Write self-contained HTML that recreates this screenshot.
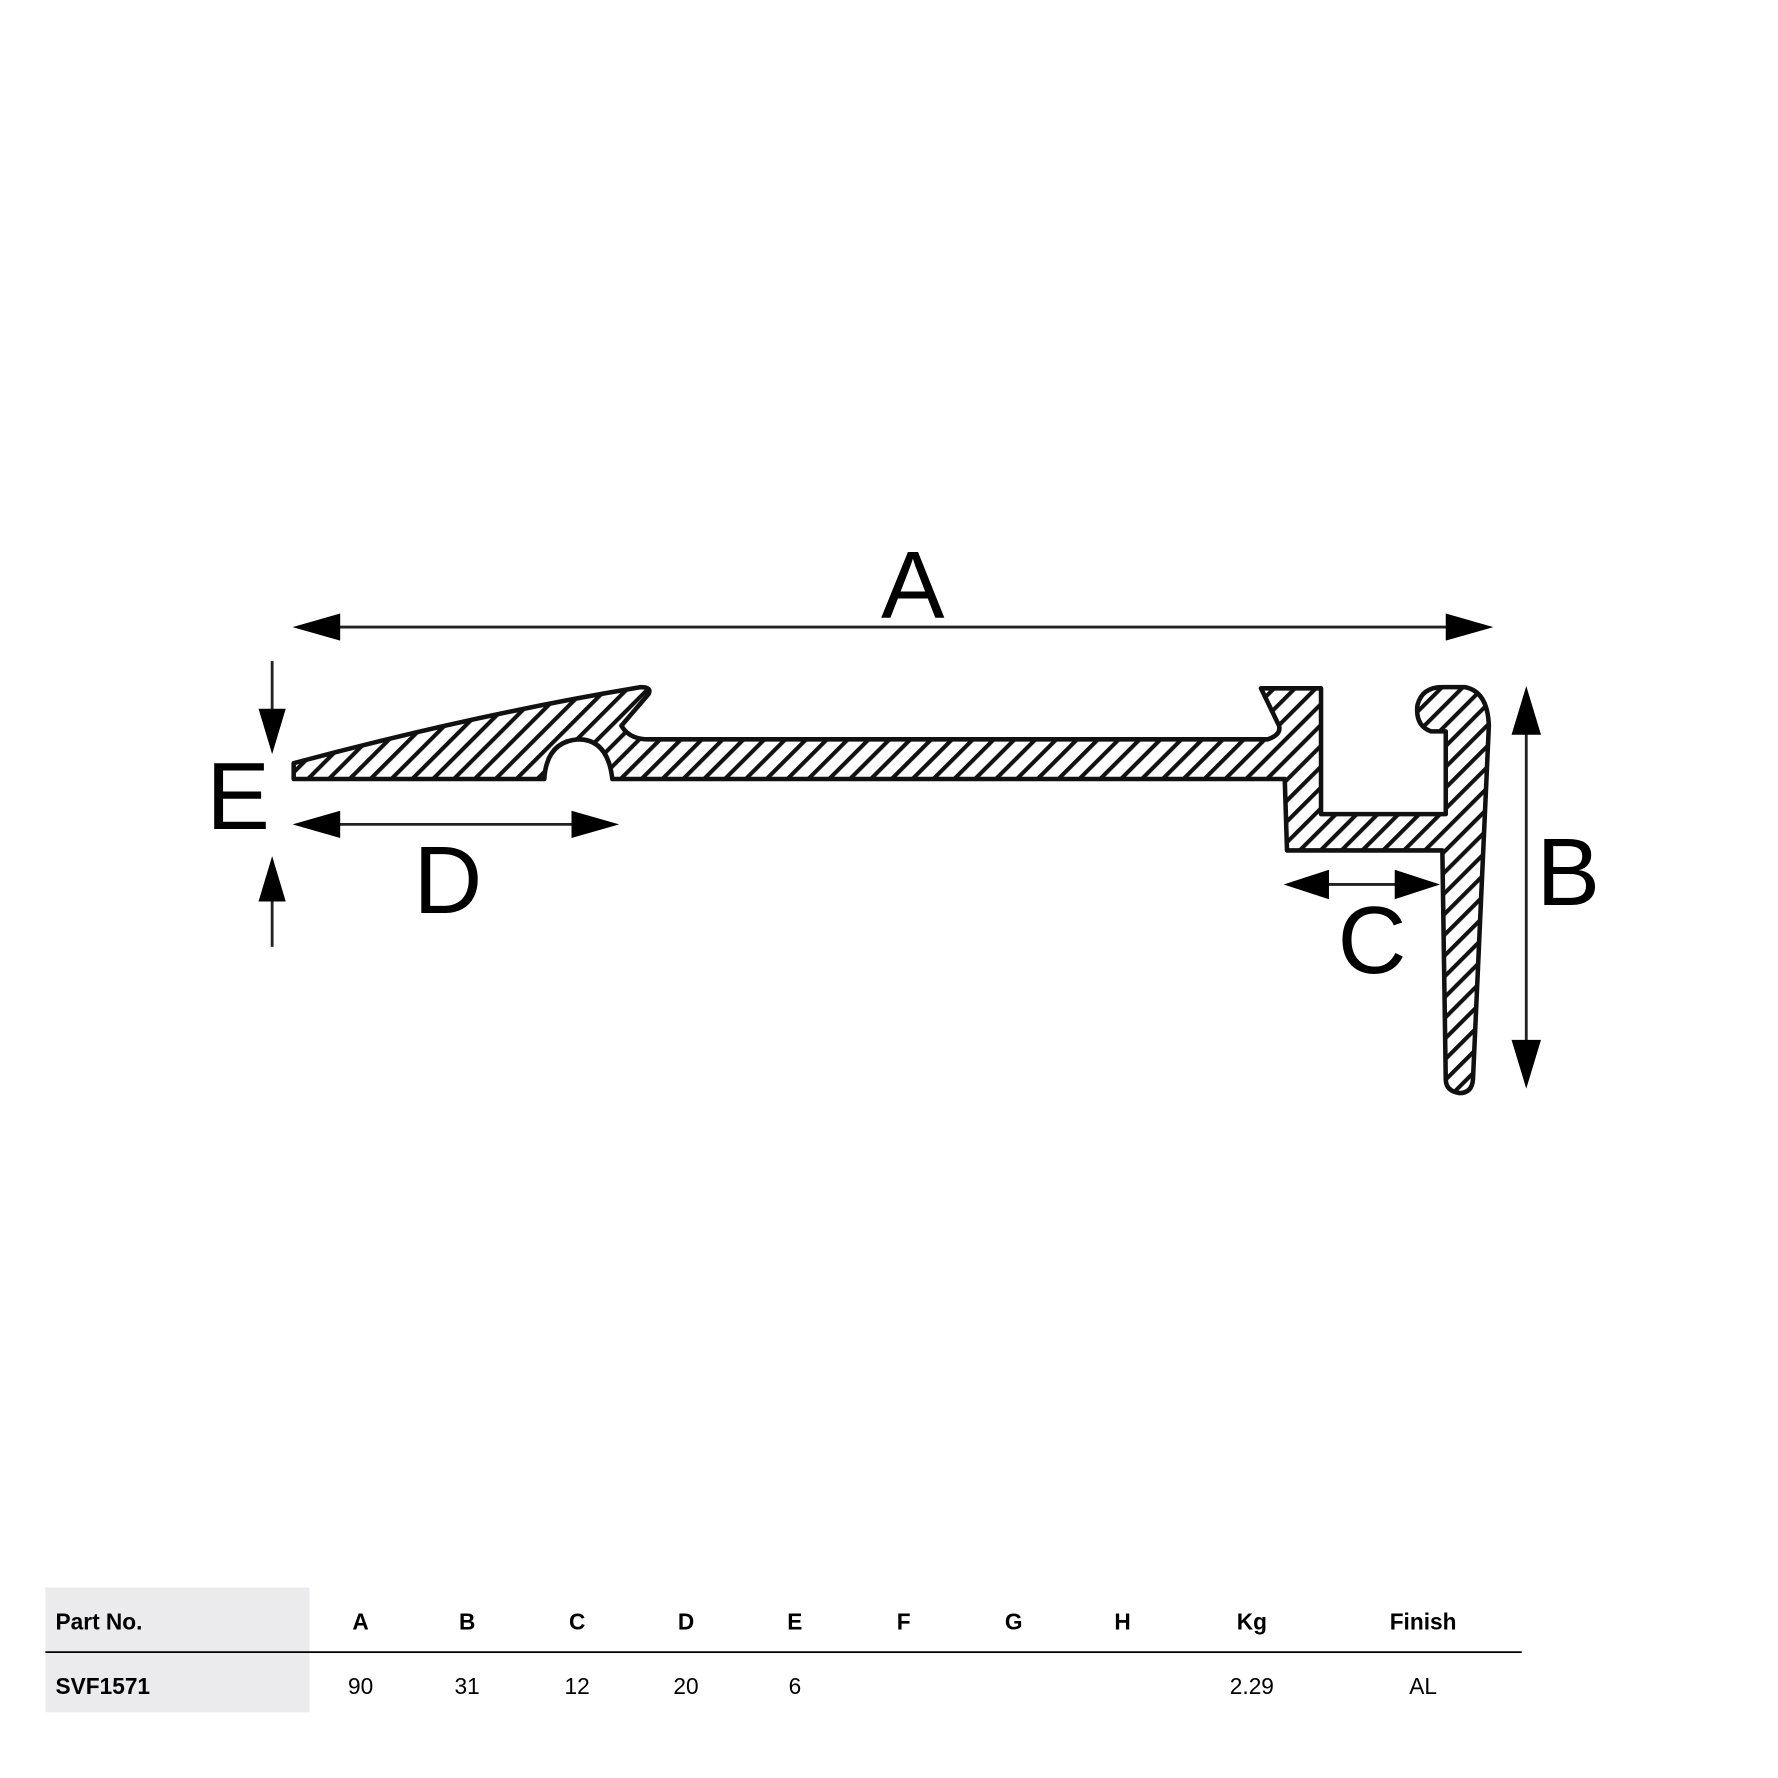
<!DOCTYPE html>
<html><head><meta charset="utf-8"><style>
html,body{margin:0;padding:0;background:#fff}
svg{display:block}
text{font-family:"Liberation Sans",sans-serif}
</style></head><body>
<svg width="1778" height="1778" viewBox="0 0 1568 1568" xmlns="http://www.w3.org/2000/svg">
<defs>
<pattern id="h" patternUnits="userSpaceOnUse" width="13" height="13" patternTransform="rotate(45)">
<rect width="13" height="13" fill="#fff"/>
<rect x="0" y="0" width="3.6" height="13" fill="#111"/>
</pattern>
</defs>
<path d="M259,673 Q420,630 565,606 Q575,606 572,612 L548,640 Q555,652 572,652 L1118,652 Q1130,648 1128,640 L1112,607 L1165,607 L1165,718 L1275,718 L1275,645 L1262,645 Q1248,640 1250,622 Q1254,606 1272,606 L1292,606 Q1312,610 1313,640 L1299,952 Q1298,964 1287,964 Q1275,962 1275,952 L1272,750 L1135,750 L1133,687 L540,687 Q536,652 510,652 Q482,654 480,687 L259,687 Z" fill="url(#h)" stroke="#111" stroke-width="4" stroke-linejoin="round"/>
<g fill="#000" stroke="#222" stroke-width="2.5">
<line x1="290" y1="553" x2="1285" y2="553"/>
<path d="M258,553 L300,541 L300,565 Z" stroke="none"/>
<path d="M1317,553 L1275,541 L1275,565 Z" stroke="none"/>
<line x1="240" y1="583" x2="240" y2="630"/>
<path d="M240,665 L228,625 L252,625 Z" stroke="none"/>
<line x1="240" y1="790" x2="240" y2="835"/>
<path d="M240,755 L228,795 L252,795 Z" stroke="none"/>
<line x1="290" y1="727" x2="515" y2="727"/>
<path d="M258,727 L300,715 L300,739 Z" stroke="none"/>
<path d="M546,727 L504,715 L504,739 Z" stroke="none"/>
<line x1="1160" y1="780" x2="1240" y2="780"/>
<path d="M1132,780 L1172,767 L1172,793 Z" stroke="none"/>
<path d="M1270,780 L1230,767 L1230,793 Z" stroke="none"/>
<line x1="1346" y1="640" x2="1346" y2="925"/>
<path d="M1346,605 L1333,648 L1359,648 Z" stroke="none"/>
<path d="M1346,960 L1333,917 L1359,917 Z" stroke="none"/>
</g>
<g font-size="84" fill="#000" text-anchor="middle">
<text x="805" y="545">A</text>
<text x="210" y="731">E</text>
<text x="395" y="805">D</text>
<text x="1210" y="858">C</text>
<text x="1383" y="798">B</text>
</g>
<rect x="40" y="1400" width="233" height="110" fill="#ebebed"/>
<line x1="40" y1="1457" x2="1342" y2="1457" stroke="#000" stroke-width="1.5"/>
<g font-size="20" fill="#000">
<text x="49" y="1437" font-weight="bold">Part No.</text>
<text x="49" y="1494" font-weight="bold">SVF1571</text>
<g text-anchor="middle" font-weight="bold">
<text x="318" y="1437">A</text><text x="412" y="1437">B</text><text x="509" y="1437">C</text><text x="605" y="1437">D</text><text x="701" y="1437">E</text><text x="797" y="1437">F</text><text x="894" y="1437">G</text><text x="990" y="1437">H</text><text x="1104" y="1437">Kg</text><text x="1255" y="1437">Finish</text>
</g>
<g text-anchor="middle">
<text x="318" y="1494">90</text><text x="412" y="1494">31</text><text x="509" y="1494">12</text><text x="605" y="1494">20</text><text x="701" y="1494">6</text><text x="1104" y="1494">2.29</text><text x="1255" y="1494">AL</text>
</g>
</g>
</svg>
</body></html>
